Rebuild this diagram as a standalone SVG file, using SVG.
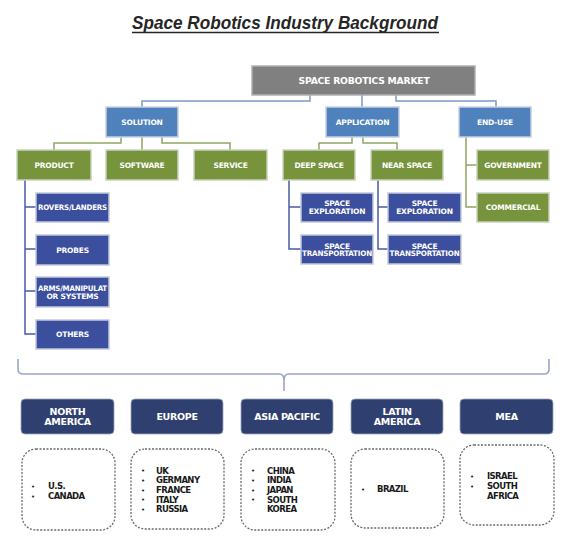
<svg xmlns="http://www.w3.org/2000/svg" width="576" height="548" viewBox="0 0 576 548">
<style>
.lbl{font-family:"DejaVu Sans",Verdana,sans-serif;font-weight:bold;font-size:7.5px;fill:#ffffff;text-anchor:middle;dominant-baseline:central;letter-spacing:-0.2px}
.hdr{font-family:"DejaVu Sans",Verdana,sans-serif;font-weight:bold;font-size:9.5px;fill:#ffffff;text-anchor:middle;dominant-baseline:central;letter-spacing:-0.3px}
.lst{font-family:"DejaVu Sans",Verdana,sans-serif;font-weight:bold;font-size:8.5px;fill:#1a1a1a;letter-spacing:-0.6px}
.bul{font-family:"DejaVu Sans",Verdana,sans-serif;font-size:7px;fill:#1a1a1a}
.top{fill:#808080;stroke:#b0b0b0;stroke-width:1.5}
.mid{fill:#4f81bd;stroke:#c4d0e0;stroke-width:1.5}
.grn{fill:#77933c;stroke:#c8d2bc;stroke-width:1.5}
.leaf{fill:#3c4f9e;stroke:#c2c8dc;stroke-width:1.5}
.reg{fill:#2f3f6f;stroke:#9aa3bd;stroke-width:0.8}
.dash{fill:#ffffff;stroke:#6a6a6a;stroke-width:1.3;stroke-dasharray:2 1.5}
.cb{fill:none;stroke:#7b9cc9;stroke-width:1.5}
.cg{fill:none;stroke:#8fa862;stroke-width:1.5}
.cd{fill:none;stroke:#4a5aa8;stroke-width:1.5}
.br{fill:none;stroke:#9aa6c6;stroke-width:1.6}
</style>
<rect width="576" height="548" fill="#ffffff"/>
<g id="title">
<text x="285" y="29" font-family="Liberation Sans,Arial,sans-serif" font-weight="bold" font-style="italic" font-size="19" fill="#262626" text-anchor="middle" textLength="306" lengthAdjust="spacingAndGlyphs">Space Robotics Industry Background</text>
<line x1="132" y1="32.5" x2="439" y2="32.5" stroke="#262626" stroke-width="1.3"/>
</g>
<g id="connectors">
<path class="cb" d="M310 95 V101 H142 V107 M362 95 V107 M396 95 V101 H496 V107"/>
<path class="cg" d="M121 137 V143 H54 V150 M142 137 V150 M162 137 V143 H230 V150"/>
<path class="cg" d="M352 137 V143 H319 V150 M363 137 V143 H397 V150"/>
<path class="cg" d="M466 137 V207 H477 M466 165 H477"/>
<path class="cd" d="M25 180 V334 H36 M25 207 H36 M25 249 H36 M25 291 H36"/>
<path class="cd" d="M289 180 V249 H301 M289 207 H301"/>
<path class="cd" d="M378 180 V249 H388 M378 207 H388"/>
<path class="br" d="M18 359 V369 Q18 374 23 374 H279 Q284 374 284 380 V391 M284 391 V380 Q284 374 289 374 H544 Q549 374 549 369 V359"/>
</g>
<g id="n-market"><rect class="top" x="252" y="66" width="223" height="29"/><text class="lbl" x="364" y="80.5" style="font-size:8.5px" textLength="131" lengthAdjust="spacingAndGlyphs">SPACE ROBOTICS MARKET</text></g>
<g id="n-solution"><rect class="mid" x="106" y="107" width="72" height="30"/><text class="lbl" x="142" y="122">SOLUTION</text></g>
<g id="n-application"><rect class="mid" x="326" y="107" width="73" height="30"/><text class="lbl" x="362.5" y="122">APPLICATION</text></g>
<g id="n-enduse"><rect class="mid" x="459" y="107" width="72" height="30"/><text class="lbl" x="495" y="122">END-USE</text></g>
<g id="n-product"><rect class="grn" x="17" y="150" width="74" height="30"/><text class="lbl" x="54" y="165">PRODUCT</text></g>
<g id="n-software"><rect class="grn" x="106" y="150" width="72" height="30"/><text class="lbl" x="142" y="165">SOFTWARE</text></g>
<g id="n-service"><rect class="grn" x="194" y="150" width="73" height="30"/><text class="lbl" x="230.5" y="165">SERVICE</text></g>
<g id="n-deep"><rect class="grn" x="283" y="150" width="72" height="30"/><text class="lbl" x="319" y="165">DEEP SPACE</text></g>
<g id="n-near"><rect class="grn" x="371" y="150" width="72" height="30"/><text class="lbl" x="407" y="165">NEAR SPACE</text></g>
<g id="n-government"><rect class="grn" x="477" y="150" width="72" height="30"/><text class="lbl" x="513" y="165">GOVERNMENT</text></g>
<g id="n-commercial"><rect class="grn" x="477" y="193" width="72" height="29"/><text class="lbl" x="513" y="207.5">COMMERCIAL</text></g>
<g id="n-rovers"><rect class="leaf" x="36" y="193" width="73" height="29"/><text class="lbl" x="72.5" y="207.5" textLength="69" lengthAdjust="spacingAndGlyphs">ROVERS/LANDERS</text></g>
<g id="n-probes"><rect class="leaf" x="36" y="235" width="73" height="30"/><text class="lbl" x="72.5" y="250">PROBES</text></g>
<g id="n-arms"><rect class="leaf" x="36" y="277" width="73" height="30"/><text class="lbl" x="72.5" y="288" textLength="69" lengthAdjust="spacingAndGlyphs">ARMS/MANIPULAT</text><text class="lbl" x="72.5" y="296">OR SYSTEMS</text></g>
<g id="n-others"><rect class="leaf" x="36" y="320" width="73" height="29"/><text class="lbl" x="72.5" y="334.5">OTHERS</text></g>
<g id="n-deep-expl"><rect class="leaf" x="301" y="193" width="72" height="29"/><text class="lbl" x="337" y="203.5">SPACE</text><text class="lbl" x="337" y="211.5">EXPLORATION</text></g>
<g id="n-deep-trans"><rect class="leaf" x="301" y="235" width="72" height="29"/><text class="lbl" x="337" y="246">SPACE</text><text class="lbl" x="337" y="253.5" textLength="70" lengthAdjust="spacingAndGlyphs">TRANSPORTATION</text></g>
<g id="n-near-expl"><rect class="leaf" x="388" y="193" width="73" height="29"/><text class="lbl" x="424.5" y="203.5">SPACE</text><text class="lbl" x="424.5" y="211.5">EXPLORATION</text></g>
<g id="n-near-trans"><rect class="leaf" x="388" y="235" width="73" height="29"/><text class="lbl" x="424.5" y="246">SPACE</text><text class="lbl" x="424.5" y="253.5" textLength="70" lengthAdjust="spacingAndGlyphs">TRANSPORTATION</text></g>
<g id="r-na"><rect class="reg" x="21" y="399" width="93" height="35" rx="4"/><text class="hdr" x="67.5" y="411">NORTH</text><text class="hdr" x="67.5" y="421">AMERICA</text>
<rect class="dash" x="22" y="449" width="93" height="81" rx="14"/>
<text class="bul"><tspan x="31" y="488.5">•</tspan><tspan x="31" y="498.5">•</tspan></text>
<text class="lst"><tspan x="48" y="489">U.S.</tspan><tspan x="48" y="499">CANADA</tspan></text></g>
<g id="r-eu"><rect class="reg" x="131" y="399" width="92" height="35" rx="4"/><text class="hdr" x="177" y="416">EUROPE</text>
<rect class="dash" x="131" y="449" width="93" height="80" rx="14"/>
<text class="bul"><tspan x="141" y="473">•</tspan><tspan x="141" y="482.5">•</tspan><tspan x="141" y="492.5">•</tspan><tspan x="141" y="502">•</tspan><tspan x="141" y="511.5">•</tspan></text>
<text class="lst"><tspan x="156" y="473.5">UK</tspan><tspan x="156" y="483">GERMANY</tspan><tspan x="156" y="493">FRANCE</tspan><tspan x="156" y="502.5">ITALY</tspan><tspan x="156" y="512">RUSSIA</tspan></text></g>
<g id="r-ap"><rect class="reg" x="241" y="399" width="92" height="35" rx="4"/><text class="hdr" x="287" y="416">ASIA PACIFIC</text>
<rect class="dash" x="241" y="449" width="94" height="81" rx="14"/>
<text class="bul"><tspan x="251" y="473">•</tspan><tspan x="251" y="482.5">•</tspan><tspan x="251" y="492.5">•</tspan><tspan x="251" y="502">•</tspan></text>
<text class="lst"><tspan x="267" y="473.5">CHINA</tspan><tspan x="267" y="483">INDIA</tspan><tspan x="267" y="493">JAPAN</tspan><tspan x="267" y="502.5">SOUTH</tspan><tspan x="267" y="512">KOREA</tspan></text></g>
<g id="r-la"><rect class="reg" x="351" y="399" width="92" height="35" rx="4"/><text class="hdr" x="397" y="411">LATIN</text><text class="hdr" x="397" y="421">AMERICA</text>
<rect class="dash" x="351" y="449" width="93" height="79" rx="14"/>
<text class="bul"><tspan x="361" y="491.5">•</tspan></text>
<text class="lst"><tspan x="377" y="492">BRAZIL</tspan></text></g>
<g id="r-mea"><rect class="reg" x="460" y="399" width="93" height="35" rx="4"/><text class="hdr" x="506.5" y="416">MEA</text>
<rect class="dash" x="460" y="445" width="94" height="80" rx="14"/>
<text class="bul"><tspan x="470" y="478.5">•</tspan><tspan x="470" y="488.5">•</tspan></text>
<text class="lst"><tspan x="487" y="479">ISRAEL</tspan><tspan x="487" y="489">SOUTH</tspan><tspan x="487" y="499">AFRICA</tspan></text></g>
</svg>
